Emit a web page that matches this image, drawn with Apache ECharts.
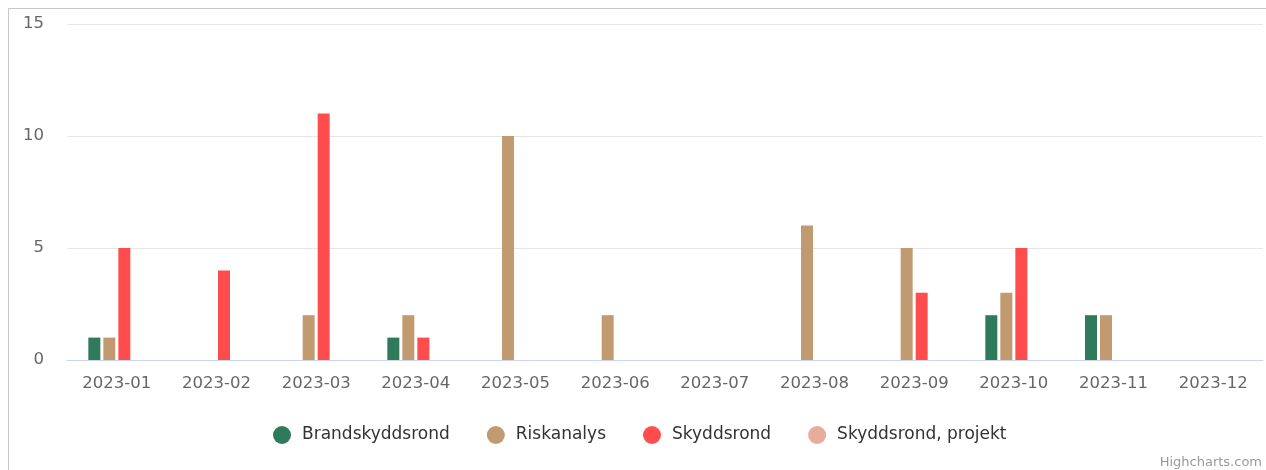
<!DOCTYPE html>
<html><head><meta charset="utf-8">
<script src="https://cdn.jsdelivr.net/npm/echarts@6/dist/echarts.min.js"></script>
<style>
html,body{margin:0;padding:0;width:1266px;height:470px;overflow:hidden;background:#fff;}
#frame{position:absolute;left:8px;top:8px;width:1400px;height:600px;border:1px solid #c8c8c8;box-sizing:border-box;}
#chart{position:absolute;left:0;top:0;width:1266px;height:470px;}
</style></head>
<body>
<div id="frame"></div>
<div id="chart"></div>
<script>
const categories = ['2023-01','2023-02','2023-03','2023-04','2023-05','2023-06','2023-07','2023-08','2023-09','2023-10','2023-11','2023-12'];
const brandskyddsrond = [1,0,0,1,0,0,0,0,0,2,2,0];
const riskanalys = [1,0,2,2,10,2,0,6,5,3,2,0];
const skyddsrond = [5,4,11,1,0,0,0,0,3,5,0,0];
const skyddsrondProjekt = [0,0,0,0,0,0,0,0,0,0,0,0];
const yTicks = [0,5,10,15];

const seriesDefs = [
  {name:'Brandskyddsrond', data:brandskyddsrond, color:'#2e7a5a'},
  {name:'Riskanalys', data:riskanalys, color:'#c29a70'},
  {name:'Skyddsrond', data:skyddsrond, color:'#ff4d4d'},
  {name:'Skyddsrond, projekt', data:skyddsrondProjekt, color:'#e8ac9a'}
];

const chart = echarts.init(document.getElementById('chart'), null, {renderer:'canvas'});
chart.setOption({
  animation:false,
  textStyle:{fontFamily:'DejaVu Sans'},
  grid:{left:67, right:3, top:24, bottom:110, containLabel:false},
  legend:{
    bottom:21, left:268, icon:'circle', itemWidth:18, itemHeight:18, itemGap:37,
    textStyle:{color:'#333', fontSize:17, fontFamily:'DejaVu Sans', padding:[0,0,0,6]},
    data:seriesDefs.map(s=>s.name)
  },
  xAxis:{
    type:'category', data:categories,
    axisLine:{lineStyle:{color:'#ccd6eb', width:1}},
    axisTick:{show:false},
    axisLabel:{color:'#666', fontSize:16.5, margin:15, interval:0}
  },
  yAxis:{
    type:'value', min:yTicks[0], max:yTicks[yTicks.length-1], interval:5,
    axisLine:{show:false}, axisTick:{show:false},
    splitLine:{lineStyle:{color:'#e6e6e6', width:1}},
    axisLabel:{color:'#666', fontSize:16.5, margin:23}
  },
  series:seriesDefs.map(s=>({
    type:'bar', name:s.name, data:s.data, barWidth:12, barGap:'25%', barCategoryGap:'42.8%',
    itemStyle:{color:s.color}, emphasis:{disabled:true}
  })),
  graphic:[{type:'text', right:4, top:456, style:{text:'Highcharts.com', fill:'#999', fontSize:13, fontFamily:'DejaVu Sans'}}]
});
</script>
</body></html>
